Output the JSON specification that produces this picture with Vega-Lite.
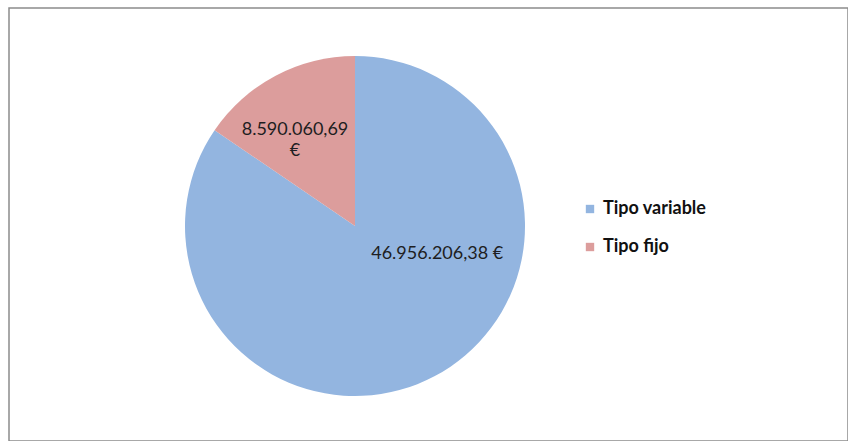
{
  "$schema": "https://vega.github.io/schema/vega-lite/v6.json",
  "width": 839,
  "height": 433,
  "autosize": {"type": "none"},
  "padding": {"left": 9, "top": 8, "right": 0, "bottom": 0},
  "background": "white",
  "view": {"stroke": "#8c8c8c", "strokeWidth": 1.5},
  "config": {"view": {"stroke": "#8c8c8c", "strokeWidth": 1.5}},
  "data": {
    "values": [
      {"tipo": "Tipo variable", "importe": 46956206.38, "etiqueta": "46.956.206,38 €"},
      {"tipo": "Tipo fijo", "importe": 8590060.69, "etiqueta": "8.590.060,69 €"}
    ]
  },
  "encoding": {
    "theta": {"field": "importe", "type": "quantitative", "stack": true},
    "order": {"field": "importe", "sort": "descending"}
  },
  "layer": [
    {
      "mark": {
        "type": "arc",
        "outerRadius": 170,
        "x": {"expr": "width * 0.4124"},
        "y": {"expr": "height * 0.5035"}
      },
      "encoding": {
        "color": {
          "field": "tipo",
          "type": "nominal",
          "scale": {"domain": ["Tipo variable", "Tipo fijo"], "range": ["#93b5e0", "#dc9d9c"]},
          "legend": {
            "title": null,
            "orient": "none",
            "legendX": 572,
            "legendY": 192,
            "symbolType": "square",
            "symbolSize": 70,
            "symbolStrokeWidth": 0,
            "labelFont": "Lato",
            "labelFontSize": 18,
            "labelFontWeight": "bold",
            "labelColor": "#111111",
            "labelOffset": 4,
            "rowPadding": 20
          }
        }
      }
    },
    {
      "mark": {
        "type": "text",
        "x": {"expr": "width * 0.4124"},
        "y": {"expr": "height * 0.5035"},
        "radius": {"expr": "datum.tipo == 'Tipo fijo' ? 112.8 : 87"},
        "thetaOffset": {"expr": "datum.tipo == 'Tipo fijo' ? -0.075 : -0.752"},
        "lineBreak": {"expr": "datum.tipo == 'Tipo fijo' ? ' ' : '\\n'"},
        "lineHeight": 21,
        "font": "Lato",
        "fontSize": 18,
        "letterSpacing": 0.5,
        "fill": "#1e1e22",
        "align": "center",
        "baseline": "middle"
      },
      "encoding": {
        "text": {"field": "etiqueta", "type": "nominal"}
      }
    }
  ]
}
